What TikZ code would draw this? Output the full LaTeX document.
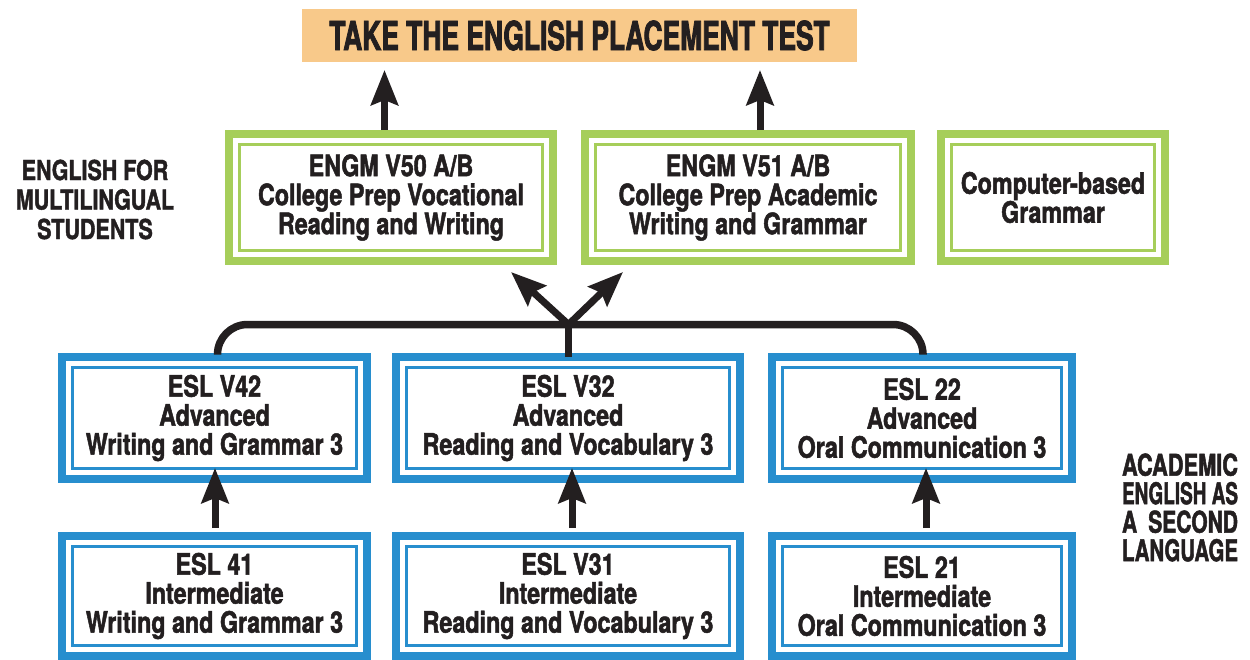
\documentclass[tikz,border=0pt]{standalone}
\usepackage{fontspec}
\usepackage{graphicx}
\usetikzlibrary{arrows.meta,calc}
\setmainfont{TeX Gyre Heros}
\newfontfamily\cnfont[FakeStretch=0.79,FakeBold=1.6]{TeX Gyre Heros}
\newfontfamily\titlefont[FakeStretch=0.66,FakeBold=2]{TeX Gyre Heros}
\newfontfamily\sidefont[FakeStretch=0.78,FakeBold=1.6]{TeX Gyre Heros}
\newfontfamily\rightfont[FakeStretch=0.70,FakeBold=1.6]{TeX Gyre Heros}
\definecolor{orng}{HTML}{F8C98A}
\definecolor{grn}{HTML}{A6CE5A}
\definecolor{blu}{HTML}{278ECE}
\definecolor{ink}{HTML}{231F20}
\newcommand\innerframe[2]{\draw[#2, line width=3pt] ($(#1.north west)+(10.5,10.5)$) rectangle ($(#1.south east)+(-10.5,-10.5)$);}
\begin{document}
\begin{tikzpicture}[x=1pt,y=-1pt,
  boxtext/.style={font=\cnfont\bfseries\fontsize{29.5}{29}\selectfont, text=ink, align=center},
  gbox/.style={boxtext, draw=grn, line width=8pt, inner sep=0pt, outer sep=0pt, fill=white, minimum height=127pt},
  bbox/.style={boxtext, draw=blu, line width=8pt, inner sep=0pt, outer sep=0pt, fill=white},
  arr/.style={draw=ink, line width=7pt, -{Stealth[length=35pt,width=27pt,inset=5pt]}},
  conn/.style={draw=ink, line width=7.5pt},
  sidelabel/.style={text=ink, align=center, inner sep=0pt}
]
\useasboundingbox (0,0) rectangle (1250,659);

% title
\node[fill=orng, minimum width=555pt, minimum height=53pt, inner sep=0pt, outer sep=0pt,
      font=\titlefont\bfseries\fontsize{40}{40}\selectfont, text=ink] (top) at (579.5,35.5) {TAKE THE ENGLISH PLACEMENT TEST};

% green boxes
\node[gbox, minimum width=324pt] (g1) at (391,197.5) {ENGM V50 A/B\\College Prep Vocational\\Reading and Writing};
\node[gbox, minimum width=326pt] (g2) at (748,197.5) {ENGM V51 A/B\\College Prep Academic\\Writing and Grammar};
\node[gbox, minimum width=224pt] (g3) at (1053,197.5) {Computer-based\\Grammar};
\innerframe{g1}{grn}
\innerframe{g2}{grn}
\innerframe{g3}{grn}

% blue boxes, upper row
\node[bbox, minimum width=305pt, minimum height=122pt] (b1) at (214.5,418) {ESL V42\\Advanced\\Writing and Grammar 3};
\node[bbox, minimum width=344pt, minimum height=122pt] (b2) at (568,418) {ESL V32\\Advanced\\Reading and Vocabulary 3};
\node[bbox, minimum width=300pt, minimum height=122pt] (b3) at (922,418) {ESL 22\\Advanced\\Oral Communication 3};
% blue boxes, lower row
\node[bbox, minimum width=305pt, minimum height=120pt] (b4) at (214.5,596) {ESL 41\\Intermediate\\Writing and Grammar 3};
\node[bbox, minimum width=344pt, minimum height=120pt] (b5) at (568,596) {ESL V31\\Intermediate\\Reading and Vocabulary 3};
\node[bbox, minimum width=300pt, minimum height=120pt] (b6) at (922,596) {ESL 21\\Intermediate\\Oral Communication 3};
\foreach \b in {b1,b2,b3,b4,b5,b6} {\innerframe{\b}{blu}}

% side labels
\node[sidelabel, font=\sidefont\bfseries\fontsize{27.5}{29.5}\selectfont] (lab1) at (95,199.5) {ENGLISH FOR\\MULTILINGUAL\\STUDENTS};
\node[sidelabel, font=\rightfont\bfseries\fontsize{30}{28.5}\selectfont] (lab2) at (1180,507.5)
  {\resizebox{116pt}{\height}{ACADEMIC}\\\resizebox{116pt}{\height}{ENGLISH AS}\\\hbox to 116pt{A\hfill SECOND}\\\resizebox{116pt}{\height}{LANGUAGE}};

% arrows to the placement test
\coordinate (tA) at (384.5,70);
\coordinate (tB) at (760,70);
\draw[arr, shorten <=4pt] (g1.north -| tA) -- (tA);
\draw[arr, shorten <=4pt] (g2.north -| tB) -- (tB);

% connector from advanced courses
\coordinate (j1) at (217.5,324.5);
\coordinate (j2) at (923,324.5);
\coordinate (jm) at (568.5,324.5);
\draw[conn, rounded corners=30pt, shorten <=4pt, shorten >=4pt] (b1.north -| j1) -- (j1) -- (j2) -- (b3.north -| j2);
\draw[conn] (b2.north -| jm) -- (jm);
\coordinate (d1) at (511,272);
\coordinate (d2) at (623,272);
\draw[arr] (jm) -- (d1);
\draw[arr] (jm) -- (d2);

% arrows between rows
\coordinate (u1) at (215,468);
\coordinate (u2) at (572,468);
\coordinate (u3) at (926,468);
\draw[arr, shorten <=8pt] (b4.north -| u1) -- (u1);
\draw[arr, shorten <=8pt] (b5.north -| u2) -- (u2);
\draw[arr, shorten <=8pt] (b6.north -| u3) -- (u3);
\end{tikzpicture}
\end{document}
